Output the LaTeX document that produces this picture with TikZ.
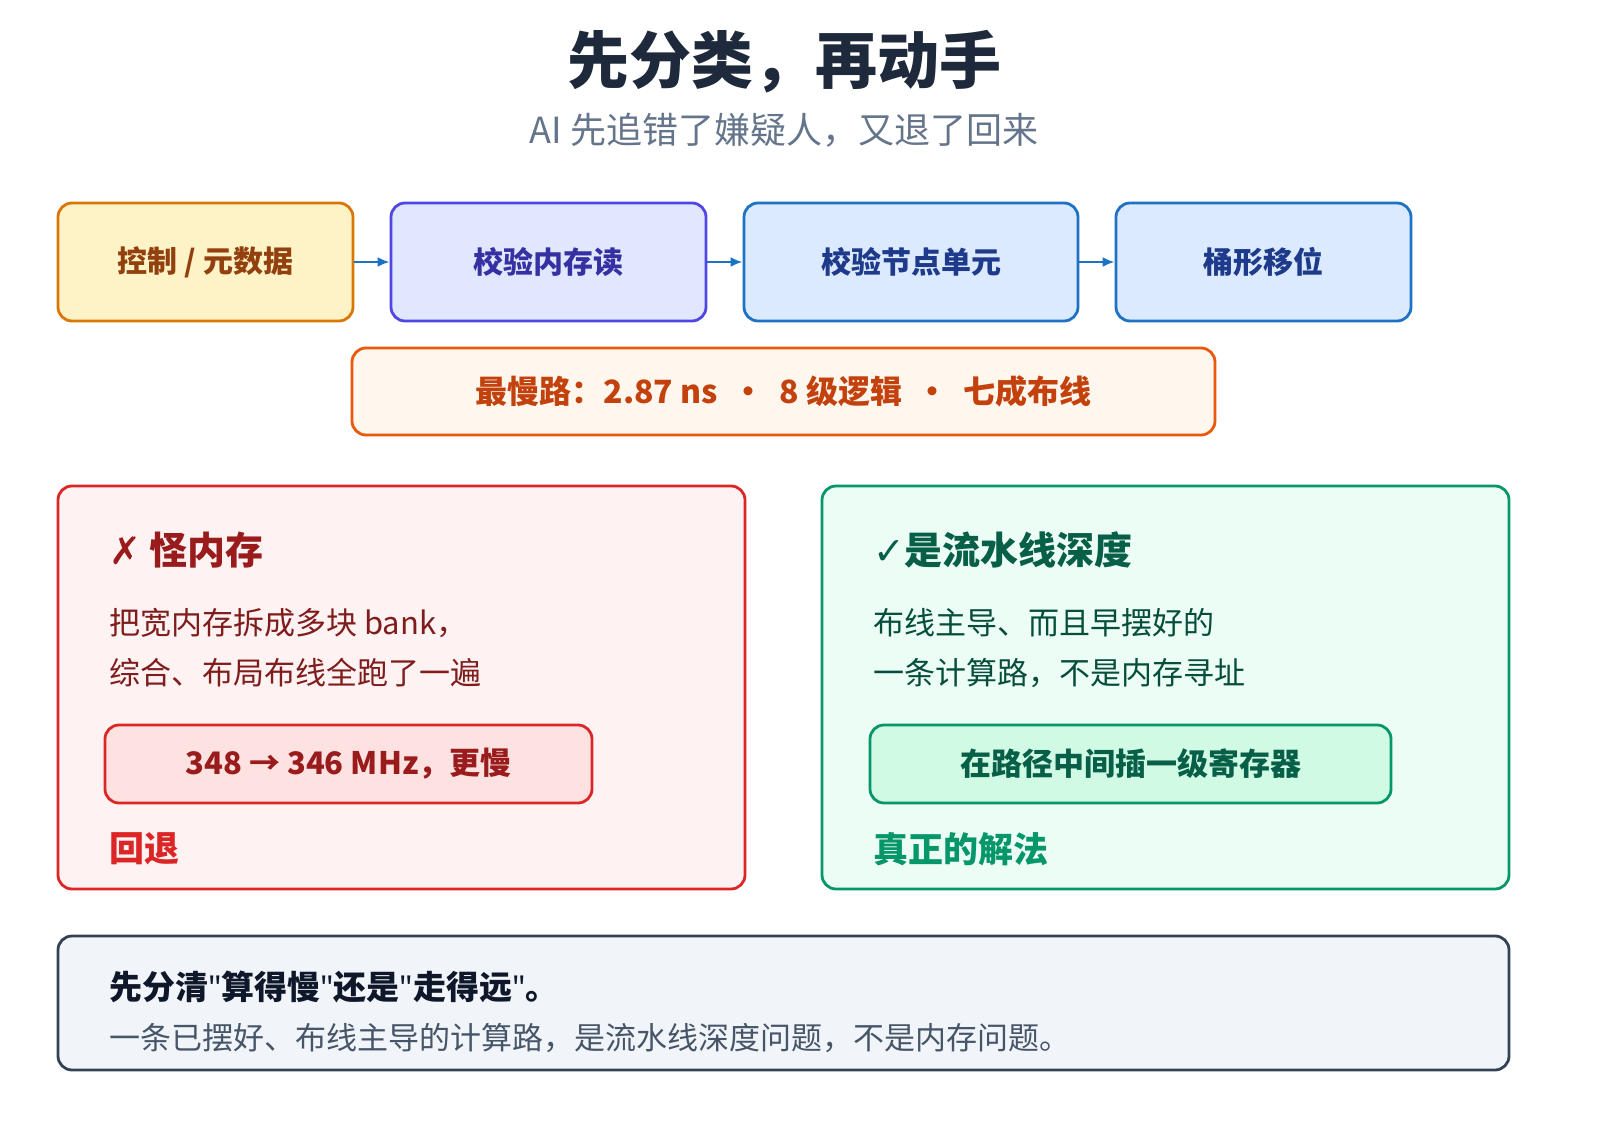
\documentclass[tikz,border=0pt]{standalone}
\usepackage{fontspec}
\setmainfont{Noto Sans CJK SC}
\newfontfamily\symfont{DejaVu Sans}
\newfontfamily\latfont{Noto Sans}
\newcommand{\qmark}{{\latfont\bfseries"}}
\usetikzlibrary{arrows.meta}
\definecolor{ttl}{HTML}{1E293B}
\definecolor{subt}{HTML}{64748B}
\definecolor{arr}{HTML}{1D72C4}
\definecolor{ctrlfill}{HTML}{FEF3C7}
\definecolor{ctrldraw}{HTML}{D97706}
\definecolor{ctrltext}{HTML}{92400E}
\definecolor{memfill}{HTML}{E0E7FF}
\definecolor{memdraw}{HTML}{4F46E5}
\definecolor{memtext}{HTML}{3730A3}
\definecolor{nodefill}{HTML}{DBEAFE}
\definecolor{nodetext}{HTML}{1E3A8A}
\definecolor{slowfill}{HTML}{FFF7ED}
\definecolor{slowdraw}{HTML}{EA580C}
\definecolor{slowtext}{HTML}{C2410C}
\definecolor{badfill}{HTML}{FEF2F2}
\definecolor{baddraw}{HTML}{DC2626}
\definecolor{badhd}{HTML}{991B1B}
\definecolor{badbody}{HTML}{7F1D1D}
\definecolor{badinner}{HTML}{FEE2E2}
\definecolor{goodfill}{HTML}{ECFDF5}
\definecolor{gooddraw}{HTML}{059669}
\definecolor{goodhd}{HTML}{065F46}
\definecolor{goodbody}{HTML}{064E3B}
\definecolor{goodinner}{HTML}{D1FAE5}
\definecolor{lessfill}{HTML}{F1F5F9}
\definecolor{lessdraw}{HTML}{334155}
\definecolor{lesshd}{HTML}{0F172A}
\definecolor{lessbody}{HTML}{475569}

\begin{document}
\begin{tikzpicture}[x=0.5pt,y=-0.5pt,
    box/.style={draw, line width=1.4pt, rounded corners=7pt},
    stage/.style={box, minimum width=295*0.5pt, minimum height=118*0.5pt, font=\fontsize{15}{18}\selectfont\bfseries},
    flow/.style={-{Latex[length=6pt,width=5pt]}, line width=1.2pt, draw=arr},
    tip/.style={anchor=west, font=\fontsize{15.5}{18}\selectfont}]
    \useasboundingbox (0,0) rectangle (1600,1128);
    % title
    \node (title) [text=ttl, font=\fontsize{31}{36}\selectfont\bfseries] at (784,62) {先分类，再动手};
    \node (subtitle) [text=subt, font=\fontsize{18}{22}\selectfont] at (784,130) {AI 先追错了嫌疑人，又退了回来};
    % pipeline
    \node (ctrl) [stage, fill=ctrlfill, draw=ctrldraw, text=ctrltext] at (205.5,262) {控制 / 元数据};
    \node (mem) [stage, minimum width=315*0.5pt, fill=memfill, draw=memdraw, text=memtext] at (548.5,262) {校验内存读};
    \node (node) [stage, minimum width=334*0.5pt, fill=nodefill, draw=arr, text=nodetext] at (911,262) {校验节点单元};
    \node (shift) [stage, fill=nodefill, draw=arr, text=nodetext] at (1263.5,262) {桶形移位};
    \draw [flow] (ctrl) -- (mem);
    \draw [flow] (mem) -- (node);
    \draw [flow] (node) -- (shift);
    % slowest path
    \node (slow) [box, minimum width=863*0.5pt, minimum height=87*0.5pt, fill=slowfill, draw=slowdraw, text=slowtext, font=\fontsize{16}{20}\selectfont\bfseries] at (783.5,391.5) {最慢路：2.87 ns \ · \ 8 级逻辑 \ · \ 七成布线};
    % wrong guess
    \draw [box, fill=badfill, draw=baddraw] (58,486) rectangle (745,889);
    \node (badhead) [anchor=west, text=badhd, font=\fontsize{19}{22}\selectfont\bfseries] at (102,550) {{\symfont ✗} 怪内存};
    \node (badtxt) [tip, text=badbody, align=left] at (102,648) {把宽内存拆成多块 bank，\\[7pt]综合、布局布线全跑了一遍};
    \node (badres) [box, minimum width=487*0.5pt, minimum height=78*0.5pt, fill=badinner, draw=baddraw, text=badhd, font=\fontsize{15.5}{18}\selectfont\bfseries] at (348.5,764) {348 → 346 MHz，更慢};
    \node (badend) [anchor=west, text=baddraw, font=\fontsize{17.5}{20}\selectfont\bfseries] at (102,849) {回退};
    % right guess
    \draw [box, fill=goodfill, draw=gooddraw] (822,486) rectangle (1509,889);
    \node (goodhead) [anchor=west, text=goodhd, font=\fontsize{19}{22}\selectfont\bfseries] at (866,550) {{\symfont ✓}是流水线深度};
    \node (goodtxt) [tip, text=goodbody, align=left] at (866,648) {布线主导、而且早摆好的\\[7pt]一条计算路，不是内存寻址};
    \node (goodres) [box, minimum width=521*0.5pt, minimum height=78*0.5pt, fill=goodinner, draw=gooddraw, text=goodhd, font=\fontsize{15.5}{18}\selectfont\bfseries] at (1130.5,764) {在路径中间插一级寄存器};
    \node (goodend) [anchor=west, text=gooddraw, font=\fontsize{17.5}{20}\selectfont\bfseries] at (866,849) {真正的解法};
    % lesson
    \draw [box, fill=lessfill, draw=lessdraw] (58,936) rectangle (1509,1070);
    \node (lesson) [anchor=west, text=lesshd, font=\fontsize{16.5}{20}\selectfont\bfseries] at (102,987) {先分清\qmark 算得慢\qmark 还是\qmark 走得远\qmark 。};
    \node (lessontxt) [tip, text=lessbody] at (102,1038) {一条已摆好、布线主导的计算路，是流水线深度问题，不是内存问题。};
\end{tikzpicture}
\end{document}
